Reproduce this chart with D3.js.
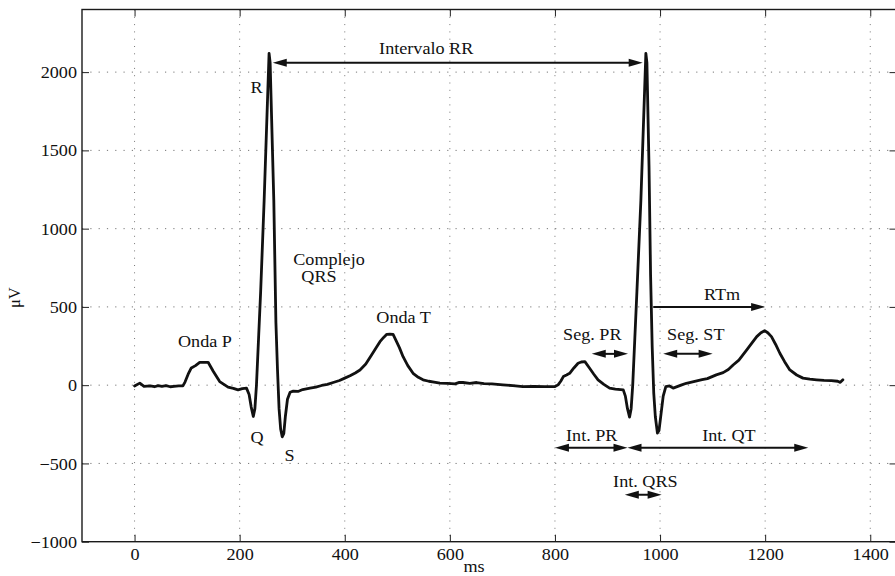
<!DOCTYPE html>
<html>
<head>
<meta charset="utf-8">
<script src="https://cdn.jsdelivr.net/npm/d3@7"></script>
<style>
  html, body { margin: 0; padding: 0; background: #fff; }
  svg { display: block; }
  text { font-family: "Liberation Serif", "Times New Roman", serif; fill: #111; }
</style>
</head>
<body>
<svg id="chart" width="895" height="576"></svg>
<script>
// ECG trace: two heartbeats, time in ms and amplitude in µV
const ecgTime = [
  0, 10, 18, 30, 38, 45, 52, 60, 68, 75, 84, 92,
  96, 102, 108, 116, 124, 132, 140, 150, 162, 170, 178, 188, 197, 205, 213,
  218, 222, 226, 229, 232, 236, 240, 246.6, 256, 258, 265, 269, 272, 275, 278, 281, 284, 287, 291, 296,
  302, 311, 320, 334, 345, 356, 367, 378, 390, 400, 410, 420, 429, 440, 451, 460, 467, 474, 480, 486, 492,
  497, 504, 511, 520, 530, 540, 549, 560, 570, 581, 595, 610, 618, 625, 638, 651, 665, 680, 701, 720, 739,
  760, 781, 800, 806, 811, 816, 822, 828, 836, 844, 850, 857, 866, 874, 882, 893, 904, 915, 930,
  934, 938, 942, 945, 948, 952, 956, 963.5, 973, 975, 979, 982, 985, 988, 991, 995, 998, 1002, 1006, 1011,
  1018, 1025, 1040, 1050, 1060, 1070, 1080, 1090, 1107, 1120, 1130, 1139, 1150, 1165, 1175, 1184, 1192, 1199,
  1205, 1212, 1220, 1228, 1237, 1247, 1260, 1272, 1285, 1298, 1312, 1326, 1338, 1343, 1348
];
const ecgVoltage = [
  -5, 13, -8, -5, -10, -3, -8, -3, -10, -8, -5, -5,
  20, 70, 110, 125, 146, 145, 146, 87, 23, 5, -13, -20, -30, -22, -19,
  -60, -140, -200, -150, 0, 300, 600, 1180, 2120, 2060, 1180, 400, 100, -150, -280, -330, -310, -200, -90, -45,
  -38, -40, -28, -19, -12, -2, 5, 17, 30, 45, 60, 78, 97, 135, 193, 240, 278, 305, 325, 326, 325,
  290, 240, 182, 125, 76, 50, 34, 25, 20, 13, 12, 8, 18, 17, 12, 17, 10, 8, 2, -3, -9,
  -8, -9, -9, 2, 25, 55, 65, 76, 110, 140, 148, 150, 108, 70, 34, 5, -19, -25, -30,
  -70, -150, -204, -150, 0, 300, 600, 1180, 2120, 2060, 1400, 700, 250, -50, -200, -306, -290, -180, -70, -9,
  -5, -19, 0, 12, 20, 28, 35, 42, 66, 80, 100, 129, 160, 225, 270, 310, 335, 348,
  335, 310, 260, 204, 150, 97, 65, 45, 38, 34, 30, 29, 25, 18, 34
];

// Axis ticks
const xTicks = [0, 200, 400, 600, 800, 1000, 1200, 1400];
const yTicks = [-1000, -500, 0, 500, 1000, 1500, 2000];
const xDomain = [-100, 1450];
const yDomain = [-1000, 2400];

// Annotation labels: text, time (ms) and amplitude (µV) at the baseline centre
const labelText = ["Intervalo RR", "R", "Q", "S", "Onda P", "Complejo", "QRS", "Onda T",
                   "Seg. PR", "Seg. ST", "RTm", "Int. PR", "Int. QT", "Int. QRS"];
const labelTime = [555, 232, 233, 295, 134, 370, 351, 512, 871, 1068, 1118, 870, 1131, 972];
const labelVolt = [2117, 1864, -368, -482, 246, 766, 660, 400, 289, 289, 543, -358, -355, -651];

// Interval arrows: start/end time, level, and which ends carry a head
const arrowStart = [263, 870, 1006, 987, 800, 938, 933];
const arrowEnd   = [967, 939, 1100, 1200, 938, 1282, 1003];
const arrowLevel = [2060, 200, 200, 500, -400, -400, -700];
const arrowHeadStart = [true, true, true, false, true, true, true];
const arrowHeadEnd   = [true, true, true, true, true, true, true];

const svg = d3.select("#chart");
const plotLeft = 82, plotTop = 9.5, plotBottom = 541.7;
const x = d3.scaleLinear().domain(xDomain).range([plotLeft, plotLeft + (xDomain[1] - xDomain[0]) * 0.5255]);
const y = d3.scaleLinear().domain(yDomain).range([plotBottom, plotTop]);
const plotRight = x(xDomain[1]);

const fontSize = 16.5;
const stretch = 1.1;

// Dotted grid
const grid = svg.append("g");
grid.selectAll("line.vx").data(xTicks).join("line")
  .attr("x1", d => x(d)).attr("x2", d => x(d))
  .attr("y1", plotTop).attr("y2", plotBottom)
  .attr("stroke", "#777").attr("stroke-width", 1)
  .attr("stroke-dasharray", "1,6.3");
grid.selectAll("line.hy").data(yTicks.filter(v => v > yDomain[0])).join("line")
  .attr("x1", plotLeft).attr("x2", plotRight)
  .attr("y1", d => y(d)).attr("y2", d => y(d))
  .attr("stroke", "#777").attr("stroke-width", 1)
  .attr("stroke-dasharray", "1.2,7.1");

// Axes with inward ticks
const fmt = d => d < 0 ? "\u2212" + Math.abs(d) : String(d);
const axB = svg.append("g").attr("transform", `translate(0,${plotBottom})`)
  .call(d3.axisBottom(x).tickValues(xTicks).tickSizeInner(-7).tickSizeOuter(0).tickFormat(fmt));
const axT = svg.append("g").attr("transform", `translate(0,${plotTop})`)
  .call(d3.axisTop(x).tickValues(xTicks).tickSizeInner(-7).tickSizeOuter(0).tickFormat(""));
const axL = svg.append("g").attr("transform", `translate(${plotLeft},0)`)
  .call(d3.axisLeft(y).tickValues(yTicks).tickSizeInner(-7).tickSizeOuter(0).tickFormat(fmt));
const axR = svg.append("g").attr("transform", `translate(${plotRight},0)`)
  .call(d3.axisRight(y).tickValues(yTicks).tickSizeInner(-7).tickSizeOuter(0).tickFormat(""));

[axB, axT, axL, axR].forEach(a => {
  a.select(".domain").remove();
  a.selectAll(".tick line").attr("stroke", "#222").attr("stroke-width", 1);
});
axB.selectAll(".tick text")
  .attr("y", 0).attr("dy", null)
  .attr("transform", `translate(0,18) scale(${stretch},1)`)
  .style("font-family", "Liberation Serif").style("font-size", fontSize + "px").attr("fill", "#111");
axL.selectAll(".tick text")
  .attr("x", 0).attr("dy", "0.34em")
  .attr("transform", `translate(-5,0) scale(${stretch},1)`)
  .style("font-family", "Liberation Serif").style("font-size", fontSize + "px").attr("fill", "#111");

// Frame
svg.append("rect")
  .attr("x", plotLeft).attr("y", plotTop)
  .attr("width", plotRight - plotLeft).attr("height", plotBottom - plotTop)
  .attr("fill", "none").attr("stroke", "#1a1a1a").attr("stroke-width", 1.4);

// ECG trace
const ecg = ecgTime.map((t, i) => [t, ecgVoltage[i]]);
svg.append("path")
  .datum(ecg)
  .attr("fill", "none")
  .attr("stroke", "#111")
  .attr("stroke-width", 2.8)
  .attr("stroke-linejoin", "round")
  .attr("stroke-linecap", "round")
  .attr("d", d3.line().x(d => x(d[0])).y(d => y(d[1])));

// Interval arrows
const headLen = 14, headHalf = 4;
const arrows = svg.append("g");
arrowStart.forEach((s, i) => {
  const x1 = x(s), x2 = x(arrowEnd[i]), yy = y(arrowLevel[i]);
  const a = arrows.append("g");
  a.append("line")
    .attr("x1", x1 + (arrowHeadStart[i] ? headLen * 0.6 : 0))
    .attr("x2", x2 - (arrowHeadEnd[i] ? headLen * 0.6 : 0))
    .attr("y1", yy).attr("y2", yy)
    .attr("stroke", "#111").attr("stroke-width", 2);
  if (arrowHeadStart[i]) {
    a.append("path")
      .attr("d", `M${x1},${yy}L${x1 + headLen},${yy - headHalf}L${x1 + headLen},${yy + headHalf}Z`)
      .attr("fill", "#111");
  }
  if (arrowHeadEnd[i]) {
    a.append("path")
      .attr("d", `M${x2},${yy}L${x2 - headLen},${yy - headHalf}L${x2 - headLen},${yy + headHalf}Z`)
      .attr("fill", "#111");
  }
});

// Annotation labels
svg.append("g").selectAll("text").data(labelText).join("text")
  .attr("transform", (d, i) => `translate(${x(labelTime[i])},${y(labelVolt[i])}) scale(${stretch},1)`)
  .attr("text-anchor", "middle")
  .style("font-size", fontSize + "px")
  .text(d => d);

// Axis titles
svg.append("text")
  .attr("transform", `translate(474,572) scale(${stretch},1)`)
  .attr("text-anchor", "middle")
  .style("font-size", fontSize + "px")
  .text("ms");
svg.append("text")
  .attr("transform", `translate(20,${(plotTop + plotBottom) / 2 + 22}) rotate(-90)`)
  .attr("text-anchor", "middle")
  .style("font-size", fontSize + "px")
  .text("μV");
</script>
</body>
</html>
